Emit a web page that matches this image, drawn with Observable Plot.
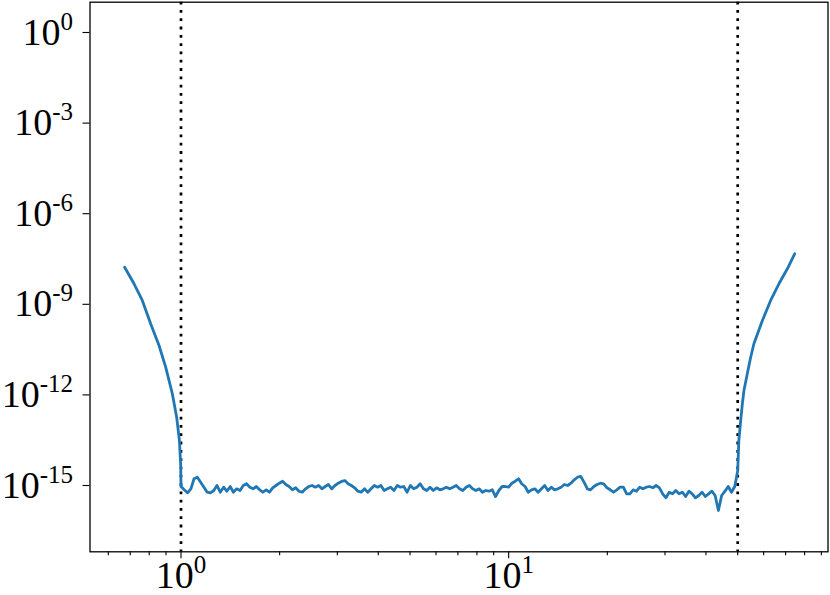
<!DOCTYPE html>
<html>
<head>
<meta charset="utf-8">
<script src="https://cdn.jsdelivr.net/npm/d3@7"></script>
<script src="https://cdn.jsdelivr.net/npm/@observablehq/plot@0.6"></script>
<style>
  html, body { margin: 0; padding: 0; background: white; }
  #chart svg { display: block; }
</style>
</head>
<body>
<div id="chart"></div>
<script>
// ---- data ----
const leftX = [0.673, 0.719, 0.762, 0.808, 0.857, 0.898, 0.941, 0.970, 0.989, 0.998];
const leftY = [1.69e-8, 4.78e-9, 1.34e-9, 2.26e-10, 4.32e-11, 8.26e-12, 1.09e-12, 1.83e-13, 3.09e-14, 4.6e-15];

const noiseX = [
  1.000,1.023,1.047,1.072,1.096,1.122,1.148,1.175,1.202,1.230,
  1.259,1.288,1.318,1.349,1.380,1.413,1.445,1.479,1.514,1.549,
  1.585,1.622,1.660,1.698,1.738,1.778,1.820,1.862,1.905,1.950,
  1.995,2.042,2.089,2.138,2.188,2.239,2.291,2.344,2.399,2.455,
  2.512,2.570,2.630,2.692,2.754,2.818,2.884,2.951,3.020,3.090,
  3.162,3.236,3.311,3.388,3.467,3.548,3.631,3.715,3.802,3.890,
  3.981,4.074,4.169,4.266,4.365,4.467,4.571,4.677,4.786,4.898,
  5.012,5.129,5.248,5.370,5.495,5.623,5.754,5.888,6.026,6.166,
  6.310,6.457,6.607,6.761,6.918,7.079,7.244,7.413,7.586,7.762,
  7.943,8.128,8.318,8.511,8.710,8.913,9.120,9.333,9.550,9.772,
  10.00,10.23,10.47,10.72,10.96,11.22,11.48,11.75,12.02,12.30,
  12.59,12.88,13.18,13.49,13.80,14.13,14.45,14.79,15.14,15.49,
  15.85,16.22,16.60,16.98,17.38,17.78,18.20,18.62,19.05,19.50,
  19.95,20.42,20.89,21.38,21.88,22.39,22.91,23.44,23.99,24.55,
  25.12,25.70,26.30,26.92,27.54,28.18,28.84,29.51,30.20,30.90,
  31.62,32.36,33.11,33.88,34.67,35.48,36.31,37.15,38.02,38.90,
  39.81,40.74,41.69,42.66,43.65,44.67,45.71,46.77,47.86,48.98
];
// plateau values, in units of 1e-15
const noiseY = [
  0.927,0.720,0.573,0.777,1.67,1.88,1.29,0.878,0.600,0.573,
  0.683,1.00,0.600,0.878,0.647,0.927,0.600,0.777,0.683,1.00,
  1.14,0.878,0.777,0.927,0.720,0.600,0.720,0.600,0.839,1.00,
  1.19,1.39,1.08,0.927,0.720,0.839,0.647,0.600,0.777,0.927,
  1.00,0.878,1.00,0.777,0.927,1.08,0.777,1.00,1.19,1.36,
  1.46,1.14,1.00,0.839,0.647,0.600,0.777,0.600,0.777,1.00,
  0.878,1.00,0.683,0.777,0.878,0.683,1.00,0.878,0.927,0.600,
  1.00,0.777,0.878,1.14,0.777,0.683,0.878,0.683,0.839,0.720,
  0.777,0.878,0.777,0.878,1.00,0.777,0.683,0.878,1.00,0.777,
  0.683,0.777,0.600,0.683,0.647,0.720,0.432,0.683,0.927,0.927,
  0.878,1.19,1.39,1.67,1.14,0.927,0.600,0.720,0.777,0.600,
  0.777,1.00,0.683,0.878,0.720,0.777,0.878,1.08,1.00,1.19,
  1.54,1.88,1.99,1.29,0.777,0.720,0.927,1.08,1.19,1.14,
  0.839,0.720,0.600,0.720,0.878,0.878,0.531,0.531,0.720,0.647,
  0.878,0.777,0.878,0.927,0.839,1.00,0.839,0.531,0.392,0.600,
  0.531,0.683,0.531,0.600,0.432,0.647,0.531,0.392,0.467,0.600,
  0.432,0.531,0.647,0.467,0.149,0.467,0.647,0.927,0.600,0.927
];

const rightX = [50.0, 50.4, 51.05, 51.67, 52.24, 53.5, 54.77, 56.06, 59.47, 63.02, 66.8, 70.87, 74.61];
const rightY = [3.14e-15, 3.09e-14, 1.42e-13, 5.19e-13, 1.40e-12, 5.12e-12, 1.77e-11, 5.04e-11, 2.91e-10, 1.34e-9, 4.78e-9, 1.50e-8, 4.70e-8];

const boundaries = [1, 50];
const xTicks = [1, 10];
const xMinorTicks = [0.6, 0.7, 0.8, 0.9, 2, 3, 4, 5, 6, 7, 8, 9, 20, 30, 40, 50, 60, 70, 80, 90];
const yTicks = [1, 1e-3, 1e-6, 1e-9, 1e-12, 1e-15];

// ---- build table ----
const series = [
  ...leftX.map((x, i) => ({x, y: leftY[i]})),
  ...noiseX.map((x, i) => ({x, y: noiseY[i] * 1e-15})),
  ...rightX.map((x, i) => ({x, y: rightY[i]}))
];

const fmt = d => "10^" + Math.round(Math.log10(d));

const chart = Plot.plot({
  width: 830,
  height: 595,
  marginLeft: 89.5,
  marginRight: 2.5,
  marginTop: 1.7,
  marginBottom: 43.7,
  style: {background: "white", color: "black", fontFamily: "'Liberation Serif', serif"},
  x: {type: "log", domain: [0.5276, 94.3]},
  y: {type: "log", domain: [6.38e-18, 10.07]},
  marks: [
    Plot.ruleX(boundaries, {stroke: "black", strokeWidth: 2.7, strokeDasharray: "2.8,5.5"}),
    Plot.line(series, {x: "x", y: "y", stroke: "#1f77b4", strokeWidth: 2.8, strokeLinejoin: "round"}),
    Plot.axisX(xMinorTicks, {tickSize: 4, tickFormat: () => "", label: null, strokeWidth: 1.1}),
    Plot.axisX(xTicks, {tickSize: 7, tickPadding: 2, tickFormat: fmt, label: null, fontSize: 38, strokeWidth: 1.1}),
    Plot.axisY(yTicks, {tickSize: 7, tickPadding: 10, tickFormat: fmt, label: null, fontSize: 38, strokeWidth: 1.1}),
    Plot.frame({stroke: "black", strokeWidth: 1.3})
  ]
});

// render exponents as superscripts
const ns = "http://www.w3.org/2000/svg";
chart.querySelectorAll("text").forEach(t => {
  const m = t.textContent.match(/^10\^(.+)$/);
  if (!m) return;
  t.textContent = "";
  const base = document.createElementNS(ns, "tspan");
  base.textContent = "10";
  const sup = document.createElementNS(ns, "tspan");
  sup.setAttribute("font-size", "25");
  sup.setAttribute("dy", "-15");
  sup.textContent = m[1];
  t.appendChild(base);
  t.appendChild(sup);
});

document.getElementById("chart").appendChild(chart);
</script>
</body>
</html>
